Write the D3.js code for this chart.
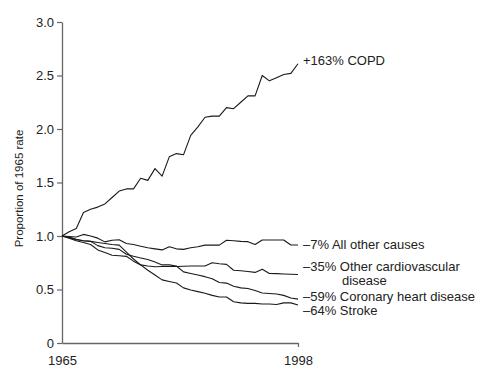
<!DOCTYPE html>
<html><head><meta charset="utf-8">
<script src="https://cdn.jsdelivr.net/npm/d3@7"></script>
<style>
body{margin:0;background:#fff;}
svg{display:block;font-family:"Liberation Sans",Arial,sans-serif;}
</style></head><body>
<svg id="c" width="485" height="382"></svg>
<script>
const years = d3.range(1965, 1999);
const copd = [1.00,1.04,1.07,1.22,1.25,1.27,1.30,1.36,1.42,1.44,1.44,1.54,1.52,1.63,1.56,1.74,1.77,1.76,1.94,2.02,2.11,2.12,2.12,2.20,2.19,2.25,2.31,2.31,2.50,2.45,2.48,2.51,2.52,2.61];
const allOther = [1.00,0.995,0.99,1.015,1.00,0.98,0.945,0.96,0.965,0.93,0.92,0.905,0.89,0.88,0.87,0.90,0.88,0.875,0.89,0.90,0.915,0.915,0.915,0.96,0.955,0.95,0.947,0.92,0.963,0.963,0.963,0.963,0.916,0.916];
const otherCvd = [1.00,0.98,0.955,0.94,0.92,0.87,0.845,0.82,0.815,0.81,0.765,0.73,0.72,0.713,0.715,0.715,0.715,0.717,0.72,0.72,0.72,0.75,0.74,0.735,0.68,0.675,0.668,0.66,0.69,0.65,0.648,0.645,0.643,0.64];
const chd = [1.00,0.985,0.965,0.955,0.95,0.91,0.89,0.885,0.875,0.83,0.81,0.795,0.78,0.757,0.73,0.73,0.72,0.665,0.65,0.635,0.62,0.60,0.565,0.56,0.53,0.515,0.51,0.49,0.467,0.463,0.458,0.445,0.42,0.41];
const stroke = [1.00,0.99,0.97,0.955,0.95,0.94,0.93,0.92,0.915,0.85,0.785,0.73,0.68,0.635,0.59,0.575,0.56,0.515,0.495,0.48,0.465,0.445,0.43,0.43,0.385,0.375,0.37,0.37,0.365,0.365,0.36,0.375,0.375,0.355];
const seriesNames = ["COPD","All other causes","Other cardiovascular disease","Coronary heart disease","Stroke"];
const labelLines = [["+163% COPD"],["\u20137% All other causes"],["\u201335% Other cardiovascular","disease"],["\u201359% Coronary heart disease"],["\u201364% Stroke"]];
const yTicks = [0,0.5,1.0,1.5,2.0,2.5,3.0];
const xTicks = [1965,1998];
const yTitle = "Proportion of 1965 rate";

// layout
const mLeft = 62, mRight = 298, mTop = 22, mBottom = 343;
const labelAt = [2.636, 0.916, 0.713, 0.439, 0.302];
const allSeries = [copd, allOther, otherCvd, chd, stroke];

const svg = d3.select("#c");
const x = d3.scaleLinear().domain([1965,1998]).range([mLeft,mRight]);
const y = d3.scaleLinear().domain([0,3]).range([mBottom,mTop]);

const axisColor = "#666";
const gy = svg.append("g").attr("transform",`translate(${mLeft},0)`)
  .call(d3.axisLeft(y).tickValues(yTicks).tickSize(5).tickPadding(3).tickSizeOuter(0)
    .tickFormat(d => d === 0 ? "0" : d.toFixed(1)));
const gx = svg.append("g").attr("transform",`translate(0,${mBottom})`)
  .call(d3.axisBottom(x).tickValues(xTicks).tickSize(4).tickPadding(9).tickSizeOuter(0).tickFormat(d3.format("d")));
gx.selectAll(".tick").filter(d => d === 1965).select("line").remove();
[gx, gy].forEach(g => {
  g.select(".domain").attr("stroke", axisColor).attr("stroke-width", 1.3);
  g.selectAll(".tick line").attr("stroke", axisColor).attr("stroke-width", 1.2);
  g.selectAll(".tick text").attr("fill", "#222").attr("font-size", 13)
   .attr("font-family", '"Liberation Sans",Arial,sans-serif');
});

svg.append("text")
  .attr("transform", `translate(19,${(mTop+mBottom)/2 + 6}) rotate(-90)`)
  .attr("text-anchor","middle").attr("dominant-baseline","central")
  .attr("font-size", 11.5).attr("fill","#222").text(yTitle);

const line = d3.line().x((d,i) => x(years[i])).y(d => y(d));
svg.append("g").selectAll("path").data(allSeries).join("path")
  .attr("d", line).attr("fill","none").attr("stroke","#1a1a1a").attr("stroke-width",1.1)
  .attr("stroke-linejoin","round");

const lg = svg.append("g");
labelLines.forEach((lines, i) => {
  lines.forEach((s, j) => {
    lg.append("text").attr("x", j === 0 ? 303 : 342).attr("y", y(labelAt[i]) + j * 13.6)
      .attr("dominant-baseline","central").attr("font-size", 13).attr("fill","#222").text(s);
  });
});
</script>
</body></html>
